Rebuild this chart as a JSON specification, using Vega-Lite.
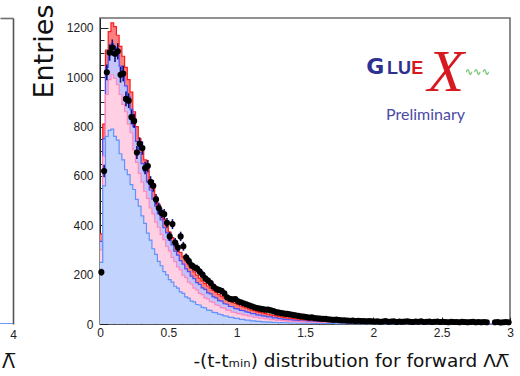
{
  "$schema": "https://vega.github.io/schema/vega-lite/v6.json",
  "autosize": {"type": "pad"},
  "padding": {"left": 0, "top": 3, "right": 0, "bottom": 0},
  "bounds": "flush",
  "spacing": 87,
  "config": {
    "view": {"stroke": "#6e6e6e", "strokeWidth": 1.6},
    "font": "Liberation Sans",
    "axis": {"grid": false, "zindex": 1}
  },
  "datasets": {
    "h": [
      {"t":0,"lb":250,"pk":300,"bl":335,"rd":365},
      {"t":0.01,"d":210,"e":14,"lb":250,"pk":300,"bl":335,"rd":365},
      {"t":0.03,"d":620,"e":25,"lb":560,"pk":680,"bl":750,"rd":810},
      {"t":0.05,"d":1020,"e":32,"lb":760,"pk":930,"bl":1040,"rd":1110},
      {"t":0.07,"d":1100,"e":33,"lb":785,"pk":990,"bl":1110,"rd":1185},
      {"t":0.09,"d":1120,"e":33,"lb":790,"pk":1010,"bl":1135,"rd":1220},
      {"t":0.11,"d":1095,"e":33,"lb":760,"pk":995,"bl":1120,"rd":1205},
      {"t":0.13,"d":1105,"e":33,"lb":745,"pk":970,"bl":1090,"rd":1170},
      {"t":0.15,"d":1010,"e":32,"lb":690,"pk":930,"bl":1045,"rd":1125},
      {"t":0.17,"d":1015,"e":32,"lb":665,"pk":890,"bl":1010,"rd":1085},
      {"t":0.19,"d":912,"e":30,"lb":625,"pk":860,"bl":965,"rd":1040},
      {"t":0.21,"d":905,"e":30,"lb":605,"pk":810,"bl":920,"rd":990},
      {"t":0.23,"d":838,"e":29,"lb":565,"pk":775,"bl":870,"rd":940},
      {"t":0.25,"d":823,"e":29,"lb":545,"pk":705,"bl":800,"rd":860},
      {"t":0.27,"d":695,"e":26,"lb":505,"pk":655,"bl":740,"rd":800},
      {"t":0.29,"d":730,"e":27,"lb":478,"pk":610,"bl":695,"rd":750},
      {"t":0.31,"d":713,"e":27,"lb":438,"pk":575,"bl":650,"rd":705},
      {"t":0.33,"d":632,"e":25,"lb":408,"pk":538,"bl":617,"rd":665},
      {"t":0.35,"d":640,"e":25,"lb":368,"pk":509,"bl":576,"rd":625},
      {"t":0.37,"d":575,"e":24,"lb":340,"pk":470,"bl":543,"rd":585},
      {"t":0.39,"d":560,"e":24,"lb":305,"pk":446,"bl":506,"rd":550},
      {"t":0.41,"d":505,"e":22,"lb":282,"pk":413,"bl":478,"rd":515},
      {"t":0.43,"d":470,"e":22,"lb":254,"pk":392,"bl":446,"rd":485},
      {"t":0.45,"d":450,"e":21,"lb":236,"pk":363,"bl":422,"rd":455},
      {"t":0.47,"d":445,"e":21,"lb":212,"pk":342,"bl":390,"rd":425},
      {"t":0.49,"d":410,"e":20,"lb":199,"pk":314,"bl":369,"rd":398},
      {"t":0.51,"d":355,"e":19,"lb":180,"pk":296,"bl":340,"rd":372},
      {"t":0.53,"d":405,"e":20,"lb":170,"pk":270,"bl":321,"rd":350},
      {"t":0.55,"d":330,"e":18,"lb":153,"pk":253,"bl":295,"rd":328},
      {"t":0.57,"d":310,"e":18,"lb":145,"pk":231,"bl":279,"rd":308},
      {"t":0.59,"d":355,"e":19,"lb":130,"pk":219,"bl":257,"rd":290},
      {"t":0.61,"d":315,"e":18,"lb":124,"pk":198,"bl":243,"rd":272},
      {"t":0.63,"d":270,"e":16,"lb":110,"pk":188,"bl":223,"rd":255},
      {"t":0.65,"d":255,"e":16,"lb":105,"pk":170,"bl":212,"rd":240},
      {"t":0.67,"d":238,"e":15,"lb":93,"pk":161,"bl":194,"rd":225},
      {"t":0.69,"d":230,"e":15,"lb":90,"pk":145,"bl":184,"rd":211},
      {"t":0.71,"d":225,"e":15,"lb":79,"pk":138,"bl":168,"rd":198},
      {"t":0.73,"d":212,"e":15,"lb":77,"pk":124,"bl":160,"rd":186},
      {"t":0.75,"d":200,"e":14,"lb":67,"pk":119,"bl":146,"rd":175},
      {"t":0.77,"d":185,"e":14,"lb":65,"pk":106,"bl":140,"rd":164},
      {"t":0.79,"d":176,"e":13,"lb":56,"pk":102,"bl":126,"rd":154},
      {"t":0.81,"d":166,"e":13,"lb":55,"pk":91,"bl":122,"rd":145},
      {"t":0.83,"d":152,"e":12,"lb":47,"pk":88,"bl":110,"rd":136},
      {"t":0.85,"d":143,"e":12,"lb":46,"pk":78,"bl":106,"rd":128},
      {"t":0.87,"d":138,"e":12,"lb":40,"pk":75,"bl":95,"rd":120},
      {"t":0.89,"d":134,"e":12,"lb":38,"pk":66,"bl":93,"rd":113},
      {"t":0.91,"d":124,"e":11,"lb":33,"pk":65,"bl":82,"rd":106},
      {"t":0.93,"d":108,"e":10,"lb":32,"pk":56,"bl":80,"rd":99},
      {"t":0.95,"d":102,"e":10,"lb":27,"pk":55,"bl":71,"rd":93},
      {"t":0.97,"d":100,"e":10,"lb":27,"pk":48,"bl":70,"rd":88},
      {"t":0.99,"d":101,"e":10,"lb":23,"pk":47,"bl":62,"rd":83},
      {"t":1.01,"d":92,"e":10,"lb":23,"pk":42,"bl":61,"rd":78},
      {"t":1.03,"d":88,"e":9,"lb":19,"pk":41,"bl":55,"rd":73},
      {"t":1.05,"d":84,"e":9,"lb":19,"pk":37,"bl":54,"rd":69},
      {"t":1.07,"d":80,"e":9,"lb":16,"pk":36,"bl":49,"rd":65},
      {"t":1.09,"d":76,"e":9,"lb":16,"pk":32,"bl":47,"rd":61},
      {"t":1.11,"d":72,"e":8,"lb":13,"pk":32,"bl":42,"rd":57},
      {"t":1.13,"d":68,"e":8,"lb":13,"pk":28,"bl":42,"rd":54},
      {"t":1.15,"d":65,"e":8,"lb":11,"pk":28,"bl":37,"rd":50},
      {"t":1.17,"d":62,"e":8,"lb":11,"pk":24,"bl":36,"rd":47},
      {"t":1.19,"d":60,"e":8,"lb":9,"pk":24,"bl":33,"rd":45},
      {"t":1.21,"d":58,"e":8,"lb":9,"pk":21,"bl":32,"rd":42},
      {"t":1.23,"d":58,"e":8,"lb":8,"pk":21,"bl":29,"rd":40},
      {"t":1.25,"d":55,"e":7,"lb":8,"pk":18,"bl":29,"rd":37},
      {"t":1.27,"d":52,"e":7,"lb":6,"pk":18,"bl":25,"rd":35},
      {"t":1.29,"d":48,"e":7,"lb":7,"pk":16,"bl":25,"rd":33},
      {"t":1.31,"d":46,"e":7,"lb":5,"pk":16,"bl":22,"rd":31},
      {"t":1.33,"d":44,"e":7,"lb":6,"pk":14,"bl":21,"rd":29},
      {"t":1.35,"d":42,"e":6,"lb":5,"pk":14,"bl":19,"rd":27},
      {"t":1.37,"d":41,"e":6,"lb":5,"pk":12,"bl":18,"rd":25},
      {"t":1.39,"d":39,"e":6,"lb":4,"pk":12,"bl":17,"rd":24},
      {"t":1.41,"d":37,"e":6,"lb":4,"pk":11,"bl":16,"rd":22},
      {"t":1.43,"d":35,"e":6,"lb":4,"pk":11,"bl":15,"rd":21},
      {"t":1.45,"d":33,"e":6,"lb":3,"pk":10,"bl":14,"rd":20},
      {"t":1.47,"d":31,"e":6,"lb":3,"pk":9,"bl":12,"rd":18},
      {"t":1.49,"d":30,"e":5,"lb":3,"pk":9,"bl":12,"rd":17},
      {"t":1.51,"d":28,"e":5,"lb":3,"pk":8,"bl":12,"rd":16},
      {"t":1.53,"d":26,"e":5,"lb":3,"pk":8,"bl":11,"rd":15},
      {"t":1.55,"d":27,"e":5,"lb":2,"pk":7,"bl":10,"rd":14},
      {"t":1.57,"d":24,"e":5,"lb":2,"pk":7,"bl":9,"rd":13},
      {"t":1.59,"d":23,"e":5,"lb":2,"pk":6,"bl":9,"rd":12},
      {"t":1.61,"d":22,"e":5,"lb":2,"pk":6,"bl":8,"rd":11},
      {"t":1.63,"d":21,"e":5,"lb":2,"pk":6,"bl":8,"rd":11},
      {"t":1.65,"d":21,"e":5,"lb":2,"pk":5,"bl":7,"rd":10},
      {"t":1.67,"d":19,"e":4,"lb":2,"pk":5,"bl":7,"rd":9},
      {"t":1.69,"d":18,"e":4,"lb":2,"pk":5,"bl":6,"rd":9},
      {"t":1.71,"d":17,"e":4,"lb":2,"pk":4,"bl":6,"rd":8},
      {"t":1.73,"d":18,"e":4,"lb":1,"pk":4,"bl":6,"rd":8},
      {"t":1.75,"d":16,"e":4,"lb":1,"pk":4,"bl":5,"rd":7},
      {"t":1.77,"d":15,"e":4,"lb":1,"pk":4,"bl":5,"rd":7},
      {"t":1.79,"d":15,"e":4,"lb":1,"pk":3,"bl":4,"rd":6},
      {"t":1.81,"d":14,"e":4,"lb":1,"pk":3,"bl":4,"rd":6},
      {"t":1.83,"d":13,"e":4,"lb":1,"pk":3,"bl":4,"rd":6},
      {"t":1.85,"d":14,"e":4,"lb":1,"pk":3,"bl":4,"rd":5},
      {"t":1.87,"d":12,"e":3,"lb":1,"pk":3,"bl":4,"rd":5},
      {"t":1.89,"d":13,"e":4,"lb":1,"pk":3,"bl":4,"rd":5},
      {"t":1.91,"d":12,"e":3,"lb":1,"pk":2,"bl":3,"rd":5},
      {"t":1.93,"d":12,"e":3,"lb":1,"pk":2,"bl":3,"rd":4},
      {"t":1.95,"d":11,"e":3,"lb":1,"pk":2,"bl":3,"rd":4},
      {"t":1.97,"d":12,"e":3,"lb":1,"pk":2,"bl":3,"rd":4},
      {"t":1.99,"d":11,"e":3,"lb":1,"pk":2,"bl":3,"rd":4},
      {"t":2.01,"d":10,"e":3,"lb":1,"pk":2,"bl":3,"rd":4},
      {"t":2.03,"d":11,"e":3,"lb":1,"pk":2,"bl":2,"rd":3},
      {"t":2.05,"d":9,"e":3,"lb":0,"pk":2,"bl":2,"rd":3},
      {"t":2.07,"d":10,"e":3,"lb":0,"pk":2,"bl":2,"rd":3},
      {"t":2.09,"d":12,"e":3,"lb":0,"pk":2,"bl":2,"rd":3},
      {"t":2.11,"d":9,"e":3,"lb":0,"pk":1,"bl":2,"rd":3},
      {"t":2.13,"d":10,"e":3,"lb":0,"pk":1,"bl":2,"rd":3},
      {"t":2.15,"d":11,"e":3,"lb":0,"pk":1,"bl":2,"rd":3},
      {"t":2.17,"d":8,"e":3,"lb":0,"pk":1,"bl":2,"rd":3},
      {"t":2.19,"d":10,"e":3,"lb":0,"pk":1,"bl":2,"rd":2},
      {"t":2.21,"d":9,"e":3,"lb":0,"pk":1,"bl":2,"rd":2},
      {"t":2.23,"d":10,"e":3,"lb":0,"pk":1,"bl":2,"rd":2},
      {"t":2.25,"d":11,"e":3,"lb":0,"pk":1,"bl":2,"rd":2},
      {"t":2.27,"d":9,"e":3,"lb":0,"pk":1,"bl":2,"rd":2},
      {"t":2.29,"d":8,"e":3,"lb":0,"pk":1,"bl":2,"rd":2},
      {"t":2.31,"d":10,"e":3,"lb":0,"pk":1,"bl":2,"rd":2},
      {"t":2.33,"d":9,"e":3,"lb":0,"pk":1,"bl":2,"rd":2},
      {"t":2.35,"d":11,"e":3,"lb":0,"pk":1,"bl":2,"rd":2},
      {"t":2.37,"d":8,"e":3,"lb":0,"pk":1,"bl":2,"rd":2},
      {"t":2.39,"d":9,"e":3,"lb":0,"pk":1,"bl":2,"rd":2},
      {"t":2.41,"d":10,"e":3,"lb":0,"pk":1,"bl":2,"rd":2},
      {"t":2.43,"d":8,"e":3,"lb":0,"pk":1,"bl":2,"rd":2},
      {"t":2.45,"d":9,"e":3,"lb":0,"pk":1,"bl":2,"rd":2},
      {"t":2.47,"d":10,"e":3,"lb":0,"pk":1,"bl":2,"rd":2},
      {"t":2.49,"d":8,"e":3,"lb":0,"pk":1,"bl":2,"rd":2},
      {"t":2.51,"d":9,"e":3,"lb":0,"pk":1,"bl":2,"rd":2},
      {"t":2.53,"d":8,"e":3,"lb":0,"pk":1,"bl":2,"rd":2},
      {"t":2.55,"d":7,"e":3,"lb":0,"pk":1,"bl":2,"rd":2},
      {"t":2.57,"d":9,"e":3,"lb":0,"pk":1,"bl":2,"rd":2},
      {"t":2.59,"d":8,"e":3,"lb":0,"pk":1,"bl":2,"rd":2},
      {"t":2.61,"d":8,"e":3,"lb":0,"pk":1,"bl":1,"rd":2},
      {"t":2.63,"d":7,"e":3,"lb":0,"pk":1,"bl":1,"rd":2},
      {"t":2.65,"d":9,"e":3,"lb":0,"pk":1,"bl":1,"rd":2},
      {"t":2.67,"d":8,"e":3,"lb":0,"pk":1,"bl":1,"rd":2},
      {"t":2.69,"d":7,"e":3,"lb":0,"pk":1,"bl":1,"rd":2},
      {"t":2.71,"d":8,"e":3,"lb":0,"pk":1,"bl":1,"rd":2},
      {"t":2.73,"d":9,"e":3,"lb":0,"pk":1,"bl":1,"rd":2},
      {"t":2.75,"d":7,"e":3,"lb":0,"pk":1,"bl":1,"rd":1},
      {"t":2.77,"d":8,"e":3,"lb":0,"pk":1,"bl":1,"rd":1},
      {"t":2.79,"d":7,"e":3,"lb":0,"pk":1,"bl":1,"rd":1},
      {"t":2.81,"d":8,"e":3,"lb":0,"pk":1,"bl":1,"rd":1},
      {"t":2.83,"d":7,"e":3,"lb":0,"pk":1,"bl":1,"rd":1},
      {"t":2.85,"lb":0,"pk":1,"bl":1,"rd":1},
      {"t":2.87,"lb":0,"pk":1,"bl":1,"rd":1},
      {"t":2.89,"d":7,"e":3,"lb":0,"pk":1,"bl":1,"rd":1},
      {"t":2.91,"d":8,"e":3,"lb":0,"pk":1,"bl":1,"rd":1},
      {"t":2.93,"d":6,"e":2,"lb":0,"pk":1,"bl":1,"rd":1},
      {"t":2.95,"d":7,"e":3,"lb":0,"pk":1,"bl":1,"rd":1},
      {"t":2.97,"d":8,"e":3,"lb":0,"pk":1,"bl":1,"rd":1},
      {"t":2.99,"d":7,"e":3,"lb":0,"pk":1,"bl":1,"rd":1},
      {"t":3,"lb":0,"pk":1,"bl":1,"rd":1}
    ]
  },
  "hconcat": [
    {
      "width": 13,
      "height": 306,
      "view": {"stroke": null},
      "data": {"values": [{"x": 3.8, "v": 0}, {"x": 4, "v": 0}]},
      "resolve": {"axis": {"x": "independent", "y": "independent"}},
      "layer": [
        {
          "mark": {"type": "line", "color": "#5f93fb", "strokeWidth": 1.5, "clip": true},
          "encoding": {
            "x": {
              "field": "x", "type": "quantitative",
              "scale": {"domain": [3.8, 4], "nice": false, "zero": false},
              "axis": {
                "orient": "bottom", "values": [4], "format": "d", "tickSize": 0, "domain": false,
                "labelPadding": 5, "labelFont": "Liberation Sans", "labelFontSize": 12, "labelColor": "#222",
                "labelFlush": false, "labelOverlap": false,
                "title": "\u039b\u0305", "titleFont": "DejaVu Sans", "titleFontSize": 19, "titleFontWeight": "normal", "titleColor": "#111",
                "titleAlign": "center", "titleBaseline": "alphabetic", "titleX": 8, "titleY": 43
              }
            },
            "y": {
              "field": "v", "type": "quantitative",
              "scale": {"domain": [0, 1240], "nice": false},
              "axis": {"orient": "right", "domain": true, "domainColor": "#555", "domainWidth": 1.6, "ticks": false, "labels": false, "title": null}
            }
          }
        },
        {
          "mark": {"type": "line", "color": "#5f93fb", "strokeWidth": 1.5, "clip": true},
          "encoding": {
            "x": {
              "field": "x", "type": "quantitative",
              "scale": {"domain": [3.8, 4], "nice": false, "zero": false},
              "axis": {"orient": "top", "domain": true, "domainColor": "#6e6e6e", "domainWidth": 1.6, "ticks": false, "labels": false, "title": null}
            },
            "y": {"field": "v", "type": "quantitative", "scale": {"domain": [0, 1240], "nice": false}, "axis": null}
          }
        }
      ]
    },
    {
      "width": 410,
      "height": 306,
      "data": {"name": "h"},
      "resolve": {"axis": {"x": "independent", "y": "independent"}},
      "layer": [
        {
          "mark": {"type": "area", "interpolate": "step", "color": "#fb8080", "opacity": 1},
          "encoding": {
            "x": {
              "field": "t", "type": "quantitative",
              "scale": {"domain": [0, 3], "nice": false, "zero": false},
              "axis": {
                "orient": "bottom", "values": [0, 0.5, 1, 1.5, 2, 2.5, 3], "format": "~g",
                "tickSize": -7, "tickColor": "#222", "domainColor": "#555", "domainWidth": 1,
                "labelPadding": 10, "labelFont": "Liberation Sans", "labelFontSize": 12, "labelColor": "#222",
                "labelFlush": false, "labelOverlap": false,
                "title": "-(t-t\u2098\u1d62\u2099) distribution for forward \u039b\u039b\u0305",
                "titleFont": "DejaVu Sans", "titleFontSize": 18.5, "titleFontWeight": "normal", "titleColor": "#111",
                "titleAlign": "right", "titleBaseline": "alphabetic", "titleX": 408, "titleY": 42
              }
            },
            "y": {
              "field": "rd", "type": "quantitative",
              "scale": {"domain": [0, 1240], "nice": false},
              "axis": {
                "orient": "left", "values": [0, 200, 400, 600, 800, 1000, 1200], "format": "d",
                "tickSize": -8, "tickColor": "#222", "domainColor": "#222", "domainWidth": 1,
                "labelPadding": 15, "labelFont": "Liberation Sans", "labelFontSize": 12, "labelColor": "#222",
                "labelOverlap": false, "labelFlush": false,
                "title": "Entries", "titleFont": "DejaVu Sans", "titleFontSize": 27, "titleFontWeight": "normal", "titleColor": "#111",
                "titleAngle": 270, "titleAlign": "right", "titleBaseline": "alphabetic", "titleX": -48, "titleY": -14
              }
            }
          }
        },
        {
          "mark": {"type": "line", "interpolate": "step", "color": "#ff1a1a", "strokeWidth": 1.2},
          "encoding": {
            "x": {"field": "t", "type": "quantitative", "scale": {"domain": [0, 3], "nice": false, "zero": false}, "axis": null},
            "y": {"field": "rd", "type": "quantitative", "scale": {"domain": [0, 1240], "nice": false}, "axis": null}
          }
        },
        {
          "mark": {"type": "area", "interpolate": "step", "color": "#c4c4fa", "opacity": 1},
          "encoding": {
            "x": {"field": "t", "type": "quantitative", "scale": {"domain": [0, 3], "nice": false, "zero": false}, "axis": null},
            "y": {"field": "bl", "type": "quantitative", "scale": {"domain": [0, 1240], "nice": false}, "axis": null}
          }
        },
        {
          "mark": {"type": "line", "interpolate": "step", "color": "#4f4ff5", "strokeWidth": 1.2},
          "encoding": {
            "x": {"field": "t", "type": "quantitative", "scale": {"domain": [0, 3], "nice": false, "zero": false}, "axis": null},
            "y": {"field": "bl", "type": "quantitative", "scale": {"domain": [0, 1240], "nice": false}, "axis": null}
          }
        },
        {
          "mark": {"type": "area", "interpolate": "step", "color": "#ffd0e4", "opacity": 1},
          "encoding": {
            "x": {"field": "t", "type": "quantitative", "scale": {"domain": [0, 3], "nice": false, "zero": false}, "axis": null},
            "y": {"field": "pk", "type": "quantitative", "scale": {"domain": [0, 1240], "nice": false}, "axis": null}
          }
        },
        {
          "mark": {"type": "line", "interpolate": "step", "color": "#ff86bd", "strokeWidth": 1.2},
          "encoding": {
            "x": {"field": "t", "type": "quantitative", "scale": {"domain": [0, 3], "nice": false, "zero": false}, "axis": null},
            "y": {"field": "pk", "type": "quantitative", "scale": {"domain": [0, 1240], "nice": false}, "axis": null}
          }
        },
        {
          "mark": {"type": "area", "interpolate": "step", "color": "#c2d4fd", "opacity": 1},
          "encoding": {
            "x": {
              "field": "t", "type": "quantitative", "scale": {"domain": [0, 3], "nice": false, "zero": false},
              "axis": {
                "orient": "bottom",
                "values": [0.1, 0.2, 0.3, 0.4, 0.6, 0.7, 0.8, 0.9, 1.1, 1.2, 1.3, 1.4, 1.6, 1.7, 1.8, 1.9, 2.1, 2.2, 2.3, 2.4, 2.6, 2.7, 2.8, 2.9],
                "labels": false, "domain": false, "tickSize": -3.5, "tickColor": "#222", "title": null
              }
            },
            "y": {
              "field": "lb", "type": "quantitative", "scale": {"domain": [0, 1240], "nice": false},
              "axis": {
                "orient": "left",
                "values": [50, 100, 150, 250, 300, 350, 450, 500, 550, 650, 700, 750, 850, 900, 950, 1050, 1100, 1150],
                "labels": false, "domain": false, "tickSize": -4, "tickColor": "#222", "title": null
              }
            }
          }
        },
        {
          "mark": {"type": "line", "interpolate": "step", "color": "#5f93fb", "strokeWidth": 1.2},
          "encoding": {
            "x": {"field": "t", "type": "quantitative", "scale": {"domain": [0, 3], "nice": false, "zero": false}, "axis": null},
            "y": {"field": "lb", "type": "quantitative", "scale": {"domain": [0, 1240], "nice": false}, "axis": null}
          }
        },
        {
          "transform": [{"filter": "isValid(datum.d)"}],
          "mark": {"type": "errorbar", "color": "#10107a", "thickness": 1.6},
          "encoding": {
            "x": {"field": "t", "type": "quantitative", "scale": {"domain": [0, 3], "nice": false, "zero": false}, "axis": null},
            "y": {"field": "d", "type": "quantitative", "scale": {"domain": [0, 1240], "nice": false}, "axis": null},
            "yError": {"field": "e"}
          }
        },
        {
          "transform": [{"filter": "isValid(datum.d)"}],
          "mark": {"type": "point", "shape": "circle", "filled": true, "color": "#000000", "opacity": 1, "size": 38},
          "encoding": {
            "x": {"field": "t", "type": "quantitative", "scale": {"domain": [0, 3], "nice": false, "zero": false}, "axis": null},
            "y": {"field": "d", "type": "quantitative", "scale": {"domain": [0, 1240], "nice": false}, "axis": null}
          }
        },
        {
          "data": {"values": [{"s": "G"}]},
          "mark": {"type": "text", "font": "DejaVu Sans", "fontWeight": "bold", "fontSize": 22, "color": "#2e3192", "align": "center", "baseline": "alphabetic"},
          "encoding": {
            "x": {"datum": 2.015, "type": "quantitative", "scale": {"domain": [0, 3], "nice": false, "zero": false}, "axis": null},
            "y": {"datum": 1013, "type": "quantitative", "scale": {"domain": [0, 1240], "nice": false}, "axis": null},
            "text": {"field": "s"}
          }
        },
        {
          "data": {"values": [{"s": "LU"}]},
          "mark": {"type": "text", "font": "Liberation Sans", "fontWeight": "bold", "fontSize": 18, "color": "#2e3192", "align": "left", "baseline": "alphabetic"},
          "encoding": {
            "x": {"datum": 2.1, "type": "quantitative", "scale": {"domain": [0, 3], "nice": false, "zero": false}, "axis": null},
            "y": {"datum": 1013, "type": "quantitative", "scale": {"domain": [0, 1240], "nice": false}, "axis": null},
            "text": {"field": "s"}
          }
        },
        {
          "data": {"values": [{"s": "E"}]},
          "mark": {"type": "text", "font": "Liberation Sans", "fontWeight": "bold", "fontSize": 18, "color": "#d71920", "align": "left", "baseline": "alphabetic"},
          "encoding": {
            "x": {"datum": 2.278, "type": "quantitative", "scale": {"domain": [0, 3], "nice": false, "zero": false}, "axis": null},
            "y": {"datum": 1013, "type": "quantitative", "scale": {"domain": [0, 1240], "nice": false}, "axis": null},
            "text": {"field": "s"}
          }
        },
        {
          "data": {"values": [{"s": "X"}]},
          "mark": {"type": "text", "font": "Liberation Serif", "fontStyle": "italic", "fontSize": 60, "color": "#d71920", "align": "center", "baseline": "alphabetic"},
          "encoding": {
            "x": {"datum": 2.53, "type": "quantitative", "scale": {"domain": [0, 3], "nice": false, "zero": false}, "axis": null},
            "y": {"datum": 944, "type": "quantitative", "scale": {"domain": [0, 1240], "nice": false}, "axis": null},
            "text": {"field": "s"}
          }
        },
        {
          "data": {"values": [{"s": "\u223f\u223f\u223f"}]},
          "mark": {"type": "text", "font": "DejaVu Sans", "fontSize": 10, "color": "#3cae3c", "align": "center", "baseline": "middle"},
          "encoding": {
            "x": {"datum": 2.76, "type": "quantitative", "scale": {"domain": [0, 3], "nice": false, "zero": false}, "axis": null},
            "y": {"datum": 1022, "type": "quantitative", "scale": {"domain": [0, 1240], "nice": false}, "axis": null},
            "text": {"field": "s"}
          }
        },
        {
          "data": {"values": [{"s": "Preliminary"}]},
          "mark": {"type": "text", "font": "Lato", "fontSize": 16, "color": "#4b4ba6", "align": "center", "baseline": "alphabetic"},
          "encoding": {
            "x": {"datum": 2.382, "type": "quantitative", "scale": {"domain": [0, 3], "nice": false, "zero": false}, "axis": null},
            "y": {"datum": 828, "type": "quantitative", "scale": {"domain": [0, 1240], "nice": false}, "axis": null},
            "text": {"field": "s"}
          }
        }
      ]
    }
  ]
}
